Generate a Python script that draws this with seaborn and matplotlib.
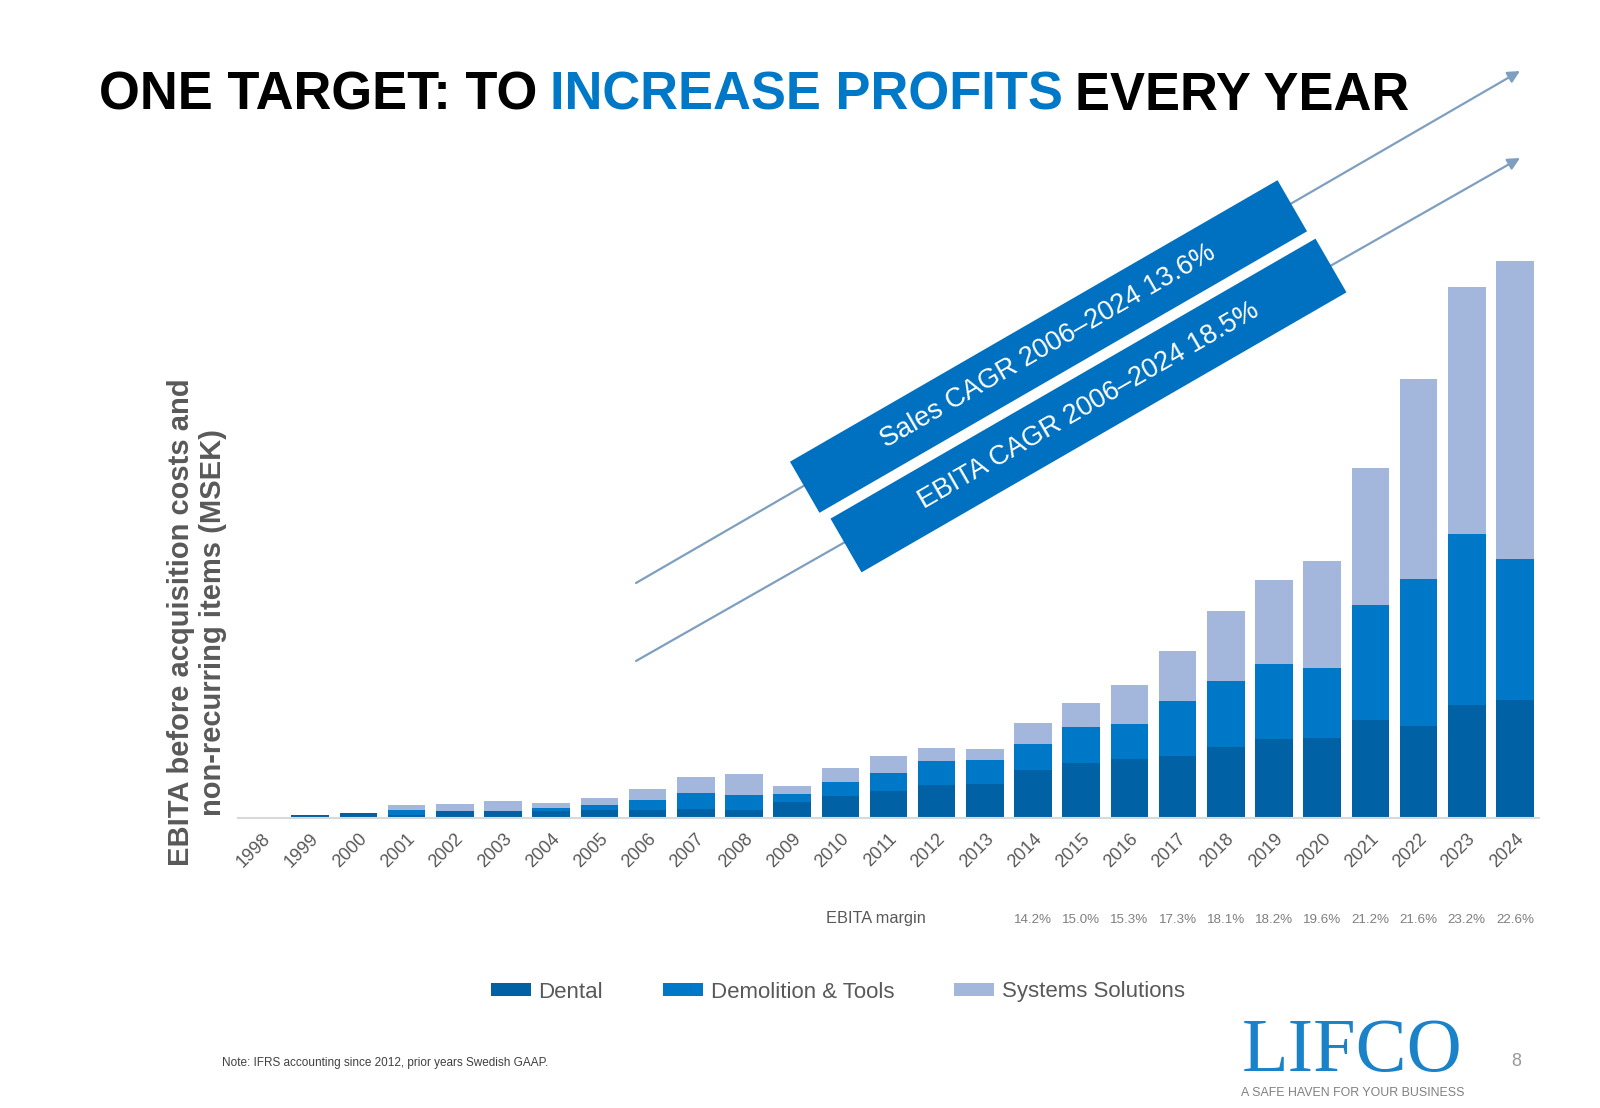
import numpy as np
import pandas as pd
import matplotlib
matplotlib.use("Agg")
import matplotlib.pyplot as plt
import seaborn as sns
from matplotlib import font_manager as fm
from matplotlib.patches import Polygon, Patch, FancyArrowPatch
from matplotlib.text import Annotation
from matplotlib.transforms import blended_transform_factory

# ---------------- data (MSEK) ----------------
years = [str(y) for y in range(1998, 2025)]
dental = [15, 35, 50, 33, 75, 75, 75, 85, 85, 95, 85, 165, 225, 275, 335, 345,
          485, 555, 595, 625, 715, 795, 805, 985, 925, 1135, 1185]
demolition_tools = [0, 0, 0, 43, 0, 0, 30, 50, 100, 160, 150, 80, 140, 180, 240, 240,
                    260, 360, 350, 550, 660, 750, 700, 1150, 1470, 1710, 1410]
systems_solutions = [0, 0, 0, 50, 70, 100, 50, 70, 110, 160, 210, 80, 140, 170, 130, 110,
                     210, 240, 390, 500, 700, 840, 1070, 1370, 2000, 2470, 2980]
margin_years = [str(y) for y in range(2014, 2025)]
margin_labels = ["14.2%", "15.0%", "15.3%", "17.3%", "18.1%", "18.2%", "19.6%",
                 "21.2%", "21.6%", "23.2%", "22.6%"]
series_names = ["Dental", "Demolition & Tools", "Systems Solutions"]
series_colors = ["#0062a5", "#0078c8", "#a3b6dc"]

W, H = 1600, 1108
sns.set_style("white")
names = {f.name for f in fm.fontManager.ttflist}
HAS_NARROW = "Liberation Sans Narrow" in names
plt.rcParams["font.family"] = ["Liberation Sans", "DejaVu Sans"]


def fx(px):
    return px / W


def fy(py):
    return 1 - py / H


fig = plt.figure(figsize=(16, 11.08), dpi=100)
fig.patch.set_facecolor("white")

# ---------------- stacked bars ----------------
ax = fig.add_axes([fx(238), fy(818), (1539 - 238) / W, 600 / H])
ax.set_facecolor("none")
df = pd.DataFrame({"year": years, "Dental": dental,
                   "Demolition & Tools": demolition_tools,
                   "Systems Solutions": systems_solutions})
df["lvl1"] = df["Dental"]
df["lvl2"] = df["lvl1"] + df["Demolition & Tools"]
df["lvl3"] = df["lvl2"] + df["Systems Solutions"]
for col, c in zip(["lvl3", "lvl2", "lvl1"], series_colors[::-1]):
    sns.barplot(data=df, x="year", y=col, color=c, width=0.78, saturation=1,
                errorbar=None, ax=ax, order=years, linewidth=0)

ax.set_xlim(-0.5, 26.5)
ax.set_ylim(0, 6000)
ax.set_xlabel("")
ax.set_ylabel("")
ax.set_yticks([])
ax.set_xticks(range(len(years)))
ax.set_xticklabels(years, rotation=45, ha="right", rotation_mode="anchor",
                   fontsize=13, color="#595959")
ax.tick_params(axis="x", length=0, pad=9)
for s in ["top", "right", "left"]:
    ax.spines[s].set_visible(False)
ax.spines["bottom"].set_color("#d9d9d9")
ax.spines["bottom"].set_linewidth(1.5)

# ---------------- title ----------------
if HAS_NARROW:
    tfam, tsize = "Liberation Sans Narrow", 45
else:
    tfam, tsize = "Liberation Sans", 37.8
t1 = fig.text(fx(99), fy(110), "ONE TARGET: TO", fontsize=tsize, fontweight="bold",
              family=tfam, va="baseline", ha="left", color="black")
gap = 0.24 * tsize
t2 = Annotation("INCREASE PROFITS", xy=(1, 0), xycoords=t1, xytext=(gap, 0),
                textcoords="offset points", va="bottom", ha="left",
                fontsize=tsize, fontweight="bold", family=tfam, color="#0078c8")
fig.add_artist(t2)
t3 = Annotation("EVERY YEAR", xy=(1, 0), xycoords=t2, xytext=(gap, 0),
                textcoords="offset points", va="bottom", ha="left",
                fontsize=tsize, fontweight="bold", family=tfam, color="black")
fig.add_artist(t3)

# ---------------- arrows ----------------
for (x0, y0, x1, y1) in [(636, 583, 1520, 71), (636, 661, 1520, 158)]:
    arr = FancyArrowPatch(posA=(fx(x0), fy(y0)), posB=(fx(x1), fy(y1)),
                          transform=fig.transFigure, arrowstyle="-|>",
                          mutation_scale=18, lw=1.6, color="#7f9fc0",
                          shrinkA=0, shrinkB=0, zorder=2)
    fig.add_artist(arr)


# ---------------- banners ----------------
def banner(cx, cy, length, thick, ang, text):
    a = np.deg2rad(ang)
    u = np.array([np.cos(a), -np.sin(a)])
    n = np.array([np.sin(a), np.cos(a)])
    c = np.array([cx, cy])
    pts = [c - u * length / 2 - n * thick / 2, c + u * length / 2 - n * thick / 2,
           c + u * length / 2 + n * thick / 2, c - u * length / 2 + n * thick / 2]
    poly = Polygon([(fx(p[0]), fy(p[1])) for p in pts], closed=True,
                   transform=fig.transFigure, facecolor="#0070c0",
                   edgecolor="none", zorder=3)
    fig.add_artist(poly)
    fig.text(fx(cx), fy(cy), text, rotation=ang, rotation_mode="anchor",
             ha="center", va="center", color="white", fontsize=19.5, zorder=4)


banner(1048.5, 346.5, 563, 59, 30, "Sales CAGR 2006\u20132024 13.6%")
banner(1088.5, 405.5, 560, 62, 30, "EBITA CAGR 2006\u20132024 18.5%")

# ---------------- y label ----------------
fig.text(fx(197), fy(622), "EBITA before acquisition costs and\nnon-recurring items (MSEK)",
         rotation=90, ha="center", va="center", multialignment="center",
         fontsize=21, fontweight="bold", color="#595959", linespacing=1.2)

# ---------------- EBITA margin row ----------------
fig.text(fx(826), fy(919), "EBITA margin", fontsize=11.8, color="#595959",
         va="center", ha="left")
btf = blended_transform_factory(ax.transData, fig.transFigure)
mfam = "Liberation Sans Narrow" if HAS_NARROW else "Liberation Sans"
msize = 10 if HAS_NARROW else 9.6
for yr, lab in zip(margin_years, margin_labels):
    ax.text(years.index(yr), fy(920), lab, transform=btf, ha="center", va="center",
            fontsize=msize, family=mfam, color="#7f7f7f", clip_on=False)

# ---------------- legend ----------------
handles = [Patch(facecolor=c, edgecolor="none") for c in series_colors]
fig.legend(handles=handles, labels=series_names, loc="center",
           bbox_to_anchor=(fx(838), fy(992)), ncol=3, frameon=False, fontsize=16,
           handlelength=1.8, handleheight=0.55, handletextpad=0.35,
           columnspacing=2.7, labelcolor="#595959")

# ---------------- footer ----------------
fig.text(fx(222), fy(1063), "Note: IFRS accounting since 2012, prior years Swedish GAAP.",
         fontsize=8.5, color="#404040", va="center", ha="left")
fig.text(fx(1242), fy(1071), "LIFCO", family="Liberation Serif", fontsize=55,
         color="#1a82c8", va="baseline", ha="left")
fig.text(fx(1241), fy(1093), "A SAFE HAVEN FOR YOUR BUSINESS", fontsize=8.9,
         color="#808080", va="center", ha="left")
fig.text(fx(1516), fy(1062), "8", fontsize=13, color="#999999", ha="center", va="center")

fig.savefig("out.png", dpi=100)
